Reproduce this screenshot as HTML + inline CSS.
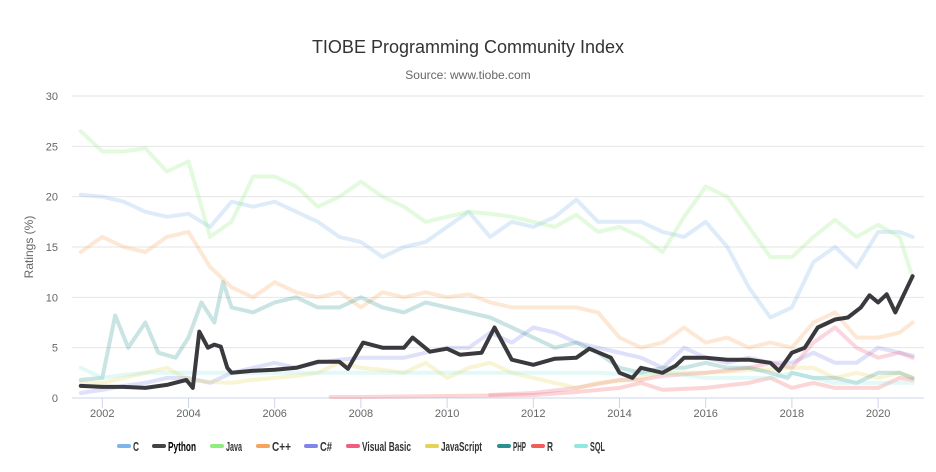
<!DOCTYPE html>
<html><head><meta charset="utf-8">
<style>
html,body{margin:0;padding:0;background:#fff;}
svg{display:block;font-family:"Liberation Sans",sans-serif;}
</style></head>
<body>
<svg id="chart" width="936" height="472" viewBox="0 0 936 472">
<text x="468" y="53" text-anchor="middle" font-size="18" fill="#333">TIOBE Programming Community Index</text>
<text x="468" y="79" text-anchor="middle" font-size="12" fill="#666">Source: www.tiobe.com</text>
<text transform="translate(33,247) rotate(-90)" text-anchor="middle" font-size="12" fill="#666">Ratings (%)</text>
<g id="grid"></g>
<g id="series"></g>
<g id="legend"></g>
</svg>
<script>
const yTicks = [0,5,10,15,20,25,30];
const xTicks = [2002,2004,2006,2008,2010,2012,2014,2016,2018,2020];

const halfYears = [2001.5,2002,2002.5,2003,2003.5,2004,2004.5,2005,2005.5,2006,2006.5,2007,2007.5,2008,2008.5,2009,2009.5,2010,2010.5,2011,2011.5,2012,2012.5,2013,2013.5,2014,2014.5,2015,2015.5,2016,2016.5,2017,2017.5,2018,2018.5,2019,2019.5,2020,2020.5,2020.8];

const cValues = [20.2,20,19.5,18.5,18,18.3,17,19.5,19,19.5,18.5,17.5,16,15.5,14,15,15.5,17,18.5,16,17.5,17,18,19.7,17.5,17.5,17.5,16.5,16,17.5,15,11,8,9,13.5,15,13,16.5,16.5,16];
const javaValues = [26.5,24.5,24.5,24.8,22.5,23.5,16,17.5,22,22,21,19,20,21.5,20,19,17.5,18,18.5,18.3,18,17.5,17,18.2,16.5,17,16,14.5,18,21,20,17,14,14,16,17.7,16,17.2,16,12];
const cppValues = [14.5,16,15,14.5,16,16.5,13,11,10,11.5,10.5,10,10.5,9,10.5,10,10.5,10,10.3,9.5,9,9,9,9,8.5,6,5,5.5,7,5.5,6,5,5.5,5,7.5,8.5,6,6,6.5,7.5];
const csharpValues = [0.5,0.8,1.2,1.5,2,2,1.5,2.5,3,3.5,3,3.5,3.8,4,4,4,4.5,5,5,6.5,5.5,7,6.5,5.5,5,4.5,4,3,5,4,3.5,4,3.5,3.5,4.5,3.5,3.5,5,4.5,4.2];
const jsValues = [1.5,1.5,2,2.5,3,1.8,1.6,1.5,1.8,2,2.2,2.5,3.5,3,2.8,2.5,3.5,2,3,3.5,2.5,2,1.5,1,1.5,1.7,2,2.5,2.5,2.5,2.6,2.8,2.8,3,3,2,2.5,2,2.5,2];
const sqlValues = [3,2,2.3,2.5,2.5,2.5,2.5,2.5,2.5,2.5,2.5,2.5,2.5,2.5,2.5,2.5,2.5,2.5,2.5,2.5,2.5,2.5,2.5,2.5,2.5,2.4,2.4,2.5,2.3,2,2,2,2,2.5,2,1.5,1.5,1.5,1.5,1.5];

const phpYears = [2001.5,2002,2002.3,2002.6,2003,2003.3,2003.7,2004,2004.3,2004.6,2004.8,2005,2005.5,2006,2006.5,2007,2007.5,2008,2008.5,2009,2009.5,2010,2010.5,2011,2011.5,2012,2012.5,2013,2013.5,2014,2014.5,2015,2015.5,2016,2016.5,2017,2017.5,2017.9,2018,2018.5,2019,2019.5,2020,2020.5,2020.8];
const phpValues = [1.8,2,8.2,5,7.5,4.5,4,6,9.5,7.5,11.5,9,8.5,9.5,10,9,9,10,9,8.5,9.5,9,8.5,8,7,6,5,5.5,4.5,3,2.5,3,3,3.5,3,3,2.5,2,2.5,2,2,1.5,2.5,2.5,2];

const rYears = [2007.3,2008,2010,2012,2013,2014,2014.5,2015,2016,2017,2017.5,2018,2018.5,2019,2020,2020.5,2020.8];
const rValues = [0.1,0.1,0.2,0.3,0.6,1,1.5,0.8,1,1.5,2,1,1.5,1,1,2,1.8];

const vbYears = [2011,2012,2013,2014,2014.5,2015,2016,2017,2017.5,2018,2018.5,2019,2019.5,2020,2020.5,2020.8];
const vbValues = [0.3,0.5,1,1.8,1.8,2.2,2.5,3,3.5,3,5.5,7,5,4,4.5,4];

const pyYears = [2001.5,2002,2002.5,2003,2003.5,2003.95,2004.1,2004.25,2004.45,2004.6,2004.75,2004.9,2005,2005.5,2006,2006.5,2007,2007.5,2007.7,2008.05,2008.5,2009,2009.2,2009.6,2010,2010.3,2010.8,2011.1,2011.5,2012,2012.5,2013,2013.3,2013.8,2014,2014.3,2014.5,2015,2015.3,2015.5,2016,2016.5,2017,2017.5,2017.7,2018,2018.3,2018.6,2019,2019.3,2019.6,2019.8,2020,2020.2,2020.4,2020.8];
const pyValues = [1.2,1.1,1.1,1.0,1.3,1.8,1.0,6.6,5.0,5.3,5.1,3.0,2.5,2.7,2.8,3.0,3.6,3.6,2.9,5.5,5.0,5.0,6.0,4.6,4.9,4.3,4.5,7.0,3.8,3.3,3.9,4.0,4.9,4.0,2.5,2.0,3.0,2.5,3.2,4.0,4.0,3.8,3.8,3.5,2.7,4.5,5.0,7.0,7.8,8.0,9.0,10.2,9.5,10.3,8.5,12.1];

const seriesNames = ["C","Python","Java","C++","C#","Visual Basic","JavaScript","PHP","R","SQL"];
const seriesColors = ["#7cb5ec","#434348","#90ed7d","#f7a35c","#8085e9","#f15c80","#e4d354","#2b908f","#f45b5b","#91e8e1"];

const NS = "http://www.w3.org/2000/svg";
const plotL = 72, plotR = 924, y0px = 398, y30px = 96;
const xScale = yr => 102.3 + (yr - 2002) * 43.1;
const yScale = v => y0px - v * (y0px - y30px) / 30;

function mk(tag, attrs, parent){ const e=document.createElementNS(NS,tag); for(const k in attrs) e.setAttribute(k,attrs[k]); parent.appendChild(e); return e; }

const grid = document.getElementById('grid');
yTicks.forEach(t=>{
  const y = yScale(t);
  const l = mk('line',{x1:plotL,x2:plotR,y1:y,y2:y,stroke:t===0?'#ccd6eb':'#e6e6e6','stroke-width':1},grid);
  
  
  const tx = mk('text',{x:58,y:y+4,'text-anchor':'end','font-size':11,fill:'#666'},grid);
  tx.textContent = t;
  
  
});
xTicks.forEach(t=>{
  const x = xScale(t);
  const l = mk('line',{x1:x,x2:x,y1:y0px,y2:y0px+10,stroke:'#ccd6eb','stroke-width':1},grid);
  
  
  const tx = mk('text',{x:x,y:y0px+19,'text-anchor':'middle','font-size':11,fill:'#666'},grid);
  tx.textContent = t;
  
  
});

const seriesData = [
  [halfYears,cValues],[pyYears,pyValues],[halfYears,javaValues],[halfYears,cppValues],[halfYears,csharpValues],
  [vbYears,vbValues],[halfYears,jsValues],[phpYears,phpValues],[rYears,rValues],[halfYears,sqlValues]
];
const sg = document.getElementById('series');
const order = [0,2,3,4,5,6,7,8,9,1];
order.forEach(i=>{
  const [xs,vs] = seriesData[i];
  const pts = xs.map((yr,j)=>xScale(yr).toFixed(1)+','+yScale(vs[j]).toFixed(1)).join(' ');
  const isPy = i===1;
  const p = mk('polyline',{points:pts,fill:'none',stroke:isPy?'#3a3a3e':seriesColors[i],'stroke-width':4,'stroke-linejoin':'round','stroke-linecap':'round',opacity:isPy?1:0.25},sg);
  
  
});

const legendSymX = [117,152,210,256,304,346,425,497,531,574];
const legendTextW = [6,28,16,19,12,49,41,13,6,15];
const lg = document.getElementById('legend');
seriesNames.forEach((n,i)=>{
  const g = mk('g',{},lg);
  
  
  mk('rect',{x:legendSymX[i],y:444,width:14,height:4,rx:2,fill:seriesColors[i]},g);
  const t = mk('text',{x:legendSymX[i]+16,y:451,'font-size':13,'font-weight':'bold',fill:i===1?'#000':'#333',textLength:legendTextW[i],lengthAdjust:'spacingAndGlyphs'},g);
  t.textContent = n;
});
</script>
</body></html>
